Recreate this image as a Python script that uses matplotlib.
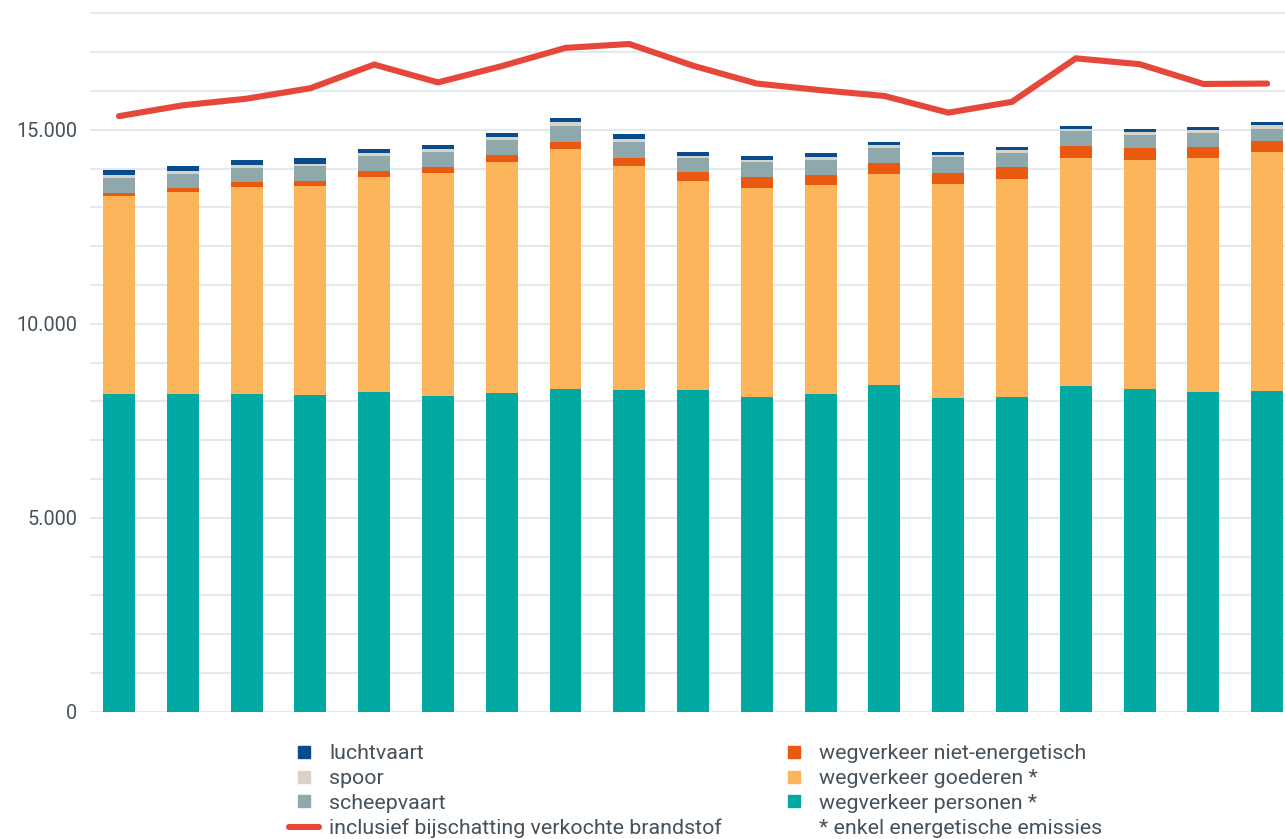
import matplotlib
matplotlib.use("Agg")
import matplotlib.pyplot as plt
from matplotlib.lines import Line2D
import numpy as np

plt.rcParams['font.family'] = ['Roboto', 'DejaVu Sans']

# Data (kton CO2-eq), 19 years
personen = [8190, 8190, 8190, 8160, 8240, 8140, 8210, 8320, 8290, 8290,
            8110, 8190, 8420, 8080, 8110, 8390, 8320, 8240, 8260]
goederen = [5100, 5210, 5330, 5390, 5540, 5750, 5950, 6180, 5770, 5390,
            5390, 5390, 5440, 5520, 5620, 5880, 5900, 6030, 6160]
niet_energetisch = [80, 100, 130, 130, 150, 150, 180, 180, 210, 230,
                    280, 260, 280, 280, 310, 310, 310, 280, 280]
scheepvaart = [390, 360, 360, 390, 390, 390, 390, 410, 410, 360,
               390, 390, 390, 410, 360, 390, 340, 360, 330]
spoor = [80, 80, 80, 50, 80, 80, 80, 100, 80, 50,
         50, 80, 80, 50, 80, 50, 80, 80, 80]
luchtvaart = [130, 130, 130, 150, 100, 100, 100, 100, 130, 100,
              100, 80, 80, 80, 80, 80, 80, 80, 80]
inclusief_brandstof = [15350, 15630, 15800, 16070, 16680, 16220, 16640, 17110, 17210, 16650,
                       16190, 16020, 15870, 15440, 15720, 16840, 16690, 16180, 16190]

series_labels = ["wegverkeer personen *", "wegverkeer goederen *", "wegverkeer niet-energetisch",
                 "scheepvaart", "spoor", "luchtvaart"]
line_label = "inclusief bijschatting verkochte brandstof"
note_label = "* enkel energetische emissies"
ytick_values = [0, 5000, 10000, 15000]

colors = {
    "wegverkeer personen *": "#00a9a2",
    "wegverkeer goederen *": "#fdb55c",
    "wegverkeer niet-energetisch": "#e95a10",
    "scheepvaart": "#8ea8ab",
    "spoor": "#d8d2c7",
    "luchtvaart": "#094b8c",
}
line_color = "#e5483a"
text_color = "#45515b"
grid_color = "#e3e9ed"

W, H = 1285, 839
fig = plt.figure(figsize=(W / 100, H / 100), dpi=100)
ax_left, ax_right = 90, 1285
ax_bottom_px, ax_top_px = 711.7, 1.7
ax = fig.add_axes([ax_left / W, (H - ax_bottom_px) / H,
                   (ax_right - ax_left) / W, (ax_bottom_px - ax_top_px) / H])

x = np.arange(len(personen))
data = [personen, goederen, niet_energetisch, scheepvaart, spoor, luchtvaart]
bottom = np.zeros(len(x))
for lab, vals in zip(series_labels, data):
    ax.bar(x, vals, width=0.5, bottom=bottom, color=colors[lab], zorder=2, linewidth=0)
    bottom += np.array(vals)

ax.plot(x, inclusief_brandstof, color=line_color, lw=4.4, solid_capstyle='round',
        solid_joinstyle='miter', zorder=3)

ax.set_xlim(-0.455, 18.28)
ax.set_ylim(0, 18300)
ax.set_yticks(np.arange(0, 18001, 1000))
ax.set_yticklabels([f"{v:,}".replace(",", ".") if v in ytick_values else "" for v in range(0, 18001, 1000)])
ax.grid(axis='y', color=grid_color, lw=1.5, zorder=0)
ax.set_axisbelow(True)
ax.set_xticks([])
ax.tick_params(axis='y', length=0, pad=9.4, labelsize=14.3, labelcolor=text_color)
for s in ax.spines.values():
    s.set_visible(False)

# Legend
h = lambda lab: Line2D([], [], ls='none', marker='s', markersize=8, color=colors[lab])
handles = [h("luchtvaart"), h("spoor"), h("scheepvaart"),
           Line2D([], [], color=line_color, lw=4.4, solid_capstyle='round'),
           h("wegverkeer niet-energetisch"), h("wegverkeer goederen *"), h("wegverkeer personen *"),
           Line2D([], [], ls='none')]
labels = ["luchtvaart", "spoor", "scheepvaart", line_label,
          "wegverkeer niet-energetisch", "wegverkeer goederen *", "wegverkeer personen *", note_label]
leg = fig.legend(handles, labels, ncol=2, loc='upper left', bbox_to_anchor=(289 / W, 1 - 744 / H),
                 frameon=False, fontsize=15.4, labelcolor=text_color, handlelength=1.4,
                 handletextpad=0.47, columnspacing=2.66, labelspacing=0.28, borderpad=0,
                 borderaxespad=0)

fig.savefig("out.png", dpi=100)
